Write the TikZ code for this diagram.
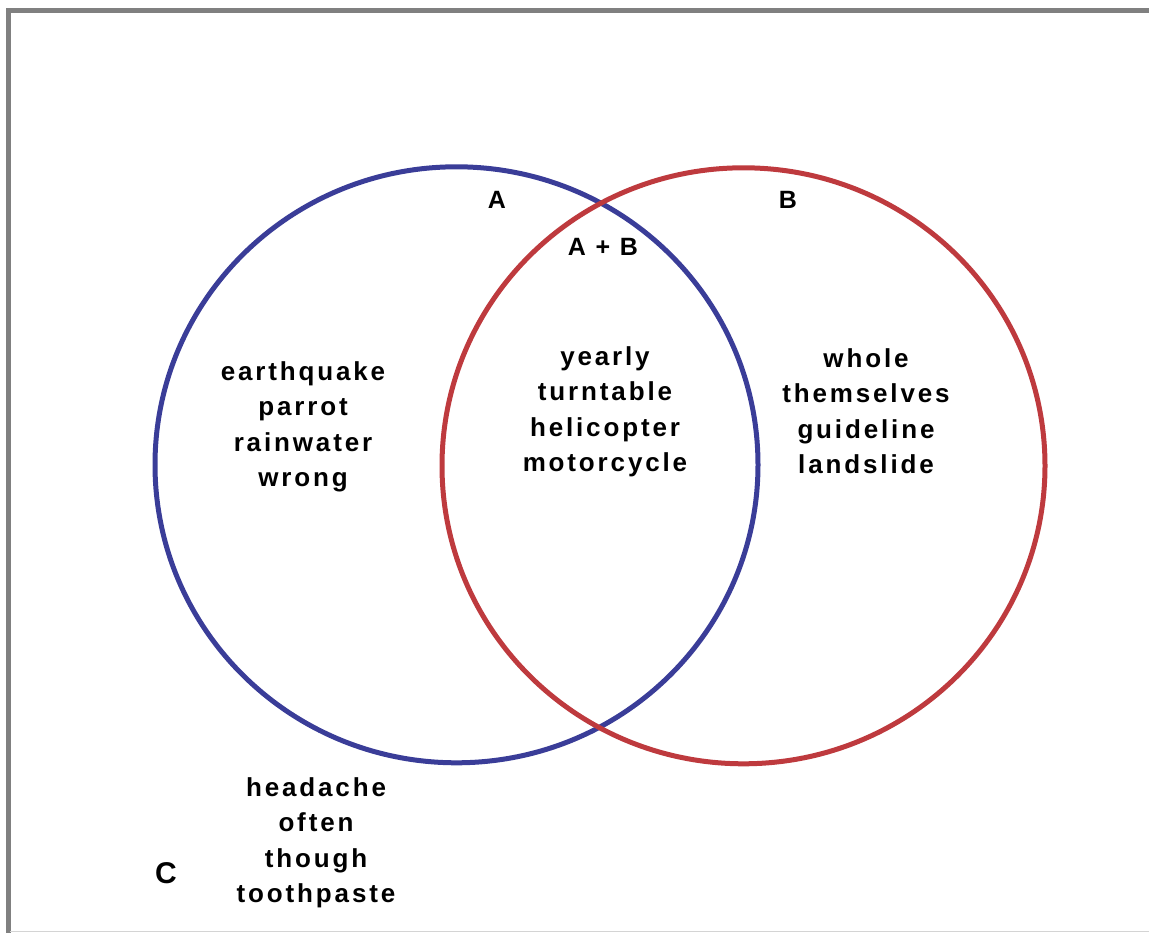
\documentclass[tikz,border=0pt]{standalone}
\usepackage{fontspec}
\setmainfont{Liberation Sans}
\newfontfamily\wordfont[LetterSpace=11]{Liberation Sans Bold}
\definecolor{setA}{HTML}{3A3D98}
\definecolor{setB}{HTML}{BE3A3E}
\definecolor{framegray}{HTML}{808080}
\definecolor{edgegray}{HTML}{D4D4D4}
\begin{document}
\begin{tikzpicture}[x=1pt,y=-1pt,
  setline/.style={line width=5pt},
  words/.style={align=center,font=\wordfont\fontsize{26}{35.5}\selectfont,inner sep=0pt},
  setlabel/.style={font=\wordfont\fontsize{25}{30}\selectfont,inner sep=0pt},
  region/.style={font=\bfseries\fontsize{30}{32}\selectfont,inner sep=0pt}]
  \useasboundingbox (0,0) rectangle (1149,933);
  \begin{scope}
    \clip (0,0) rectangle (1149,933);
    % outer frame
    \draw[framegray,line width=5pt] (8,1000) -- (8,11) -- (1200,11);
    \draw[edgegray,line width=1.5pt] (10,931.5) -- (1200,931.5);
  \end{scope}
  % the two sets
  \draw[setA,setline] (456.5,464.8) ellipse [x radius=301.5,y radius=298];
  \draw[setB,setline] (743.5,465.8) ellipse [x radius=301.5,y radius=298];
  % set labels
  \node[setlabel] (lA) at (497,200) {A};
  \node[setlabel] (lB) at (788,200) {B};
  \node[setlabel] (lAB) at (603,247) {A + B};
  \node[region] (lC) at (166,873) {C};
  % members
  \node[words] (onlyA) at (303,427) {earthquake\\parrot\\rainwater\\wrong};
  \node[words] (both) at (605,412) {yearly\\turntable\\helicopter\\motorcycle};
  \node[words] (onlyB) at (866,411) {whole\\themselves\\guideline\\landslide};
  \node[words] (none) at (316,843) {headache\\often\\though\\toothpaste};
\end{tikzpicture}
\end{document}
